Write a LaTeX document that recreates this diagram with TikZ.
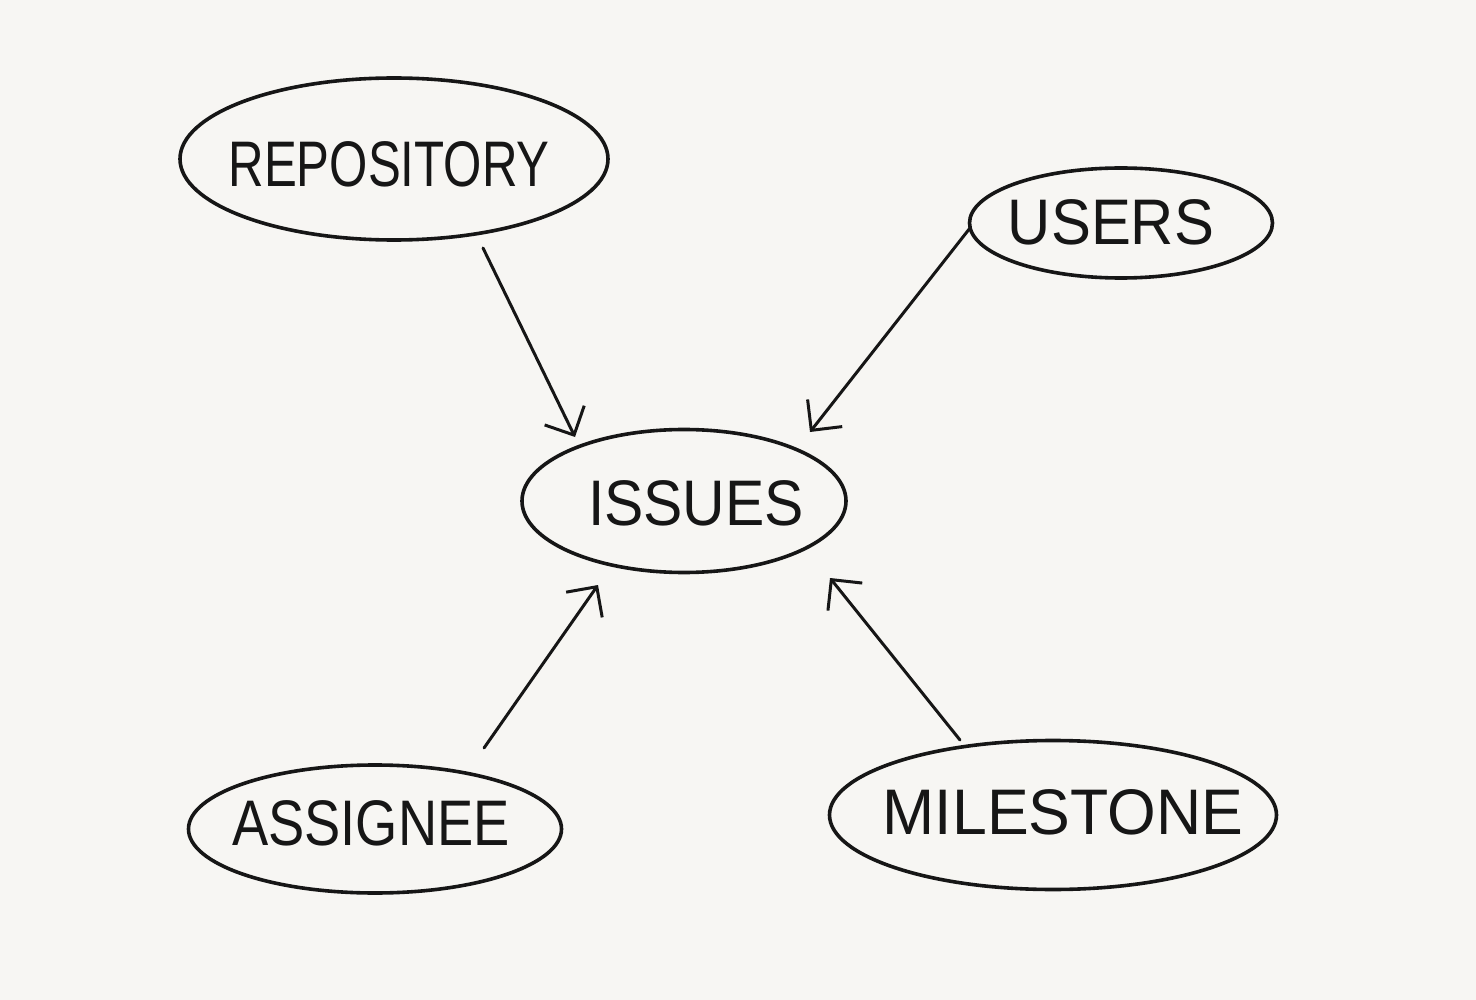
\documentclass[tikz,border=0pt]{standalone}
\usepackage{fontspec}
\setmainfont{Liberation Sans}
\usetikzlibrary{shapes.geometric,arrows.meta}
\definecolor{paper}{HTML}{F7F6F3}
\definecolor{ink}{HTML}{161616}
\newcommand\hwtext[2]{\scalebox{#1}[1.4]{#2}}
\begin{document}
\begin{tikzpicture}[x=1pt,y=-1pt,
  bubble/.style={ellipse,draw=ink,line width=3.6pt,inner sep=0pt},
  label/.style={font=\fontsize{46}{46}\selectfont,text=ink,inner sep=0pt},
  arr/.style={draw=ink,line width=3pt,line cap=round,
    -{Straight Barb[length=22pt,width=44pt,line width=3pt]}}]
\fill[paper] (0,0) rectangle (1476,1000);
\useasboundingbox (0,0) rectangle (1476,1000);
% bubbles
\node[bubble,minimum width=428pt,minimum height=162pt] (repo) at (394,159) {};
\node[bubble,minimum width=303pt,minimum height=110pt] (users) at (1121,223) {};
\node[bubble,minimum width=324pt,minimum height=143pt] (issues) at (684,501) {};
\node[bubble,minimum width=373pt,minimum height=128pt] (assignee) at (375,829) {};
\node[bubble,minimum width=447pt,minimum height=149pt] (milestone) at (1053,815) {};
% texts
\node[label] (trepo) at (389,164) {\hwtext{1.07}{REPOSITORY}};
\node[label] (tusers) at (1111,222) {\hwtext{1.3}{USERS}};
\node[label] (tissues) at (696,503) {\hwtext{1.28}{ISSUES}};
\node[label] (tassignee) at (371,823) {\hwtext{1.18}{ASSIGNEE}};
\node[label] (tmilestone) at (1063,812) {\hwtext{1.36}{MILESTONE}};
% connector ends
\coordinate (rtail) at (483,248);
\coordinate (rhead) at (575,437);
\coordinate (utail) at (970,228);
\coordinate (uhead) at (810,432);
\coordinate (atail) at (484,748);
\coordinate (ahead) at (598,585);
\coordinate (mtail) at (960,740);
\coordinate (mhead) at (830,578);
\draw[arr] (rtail) -- (rhead);
\draw[arr] (utail) -- (uhead);
\draw[arr] (atail) -- (ahead);
\draw[arr] (mtail) -- (mhead);
\end{tikzpicture}
\end{document}
